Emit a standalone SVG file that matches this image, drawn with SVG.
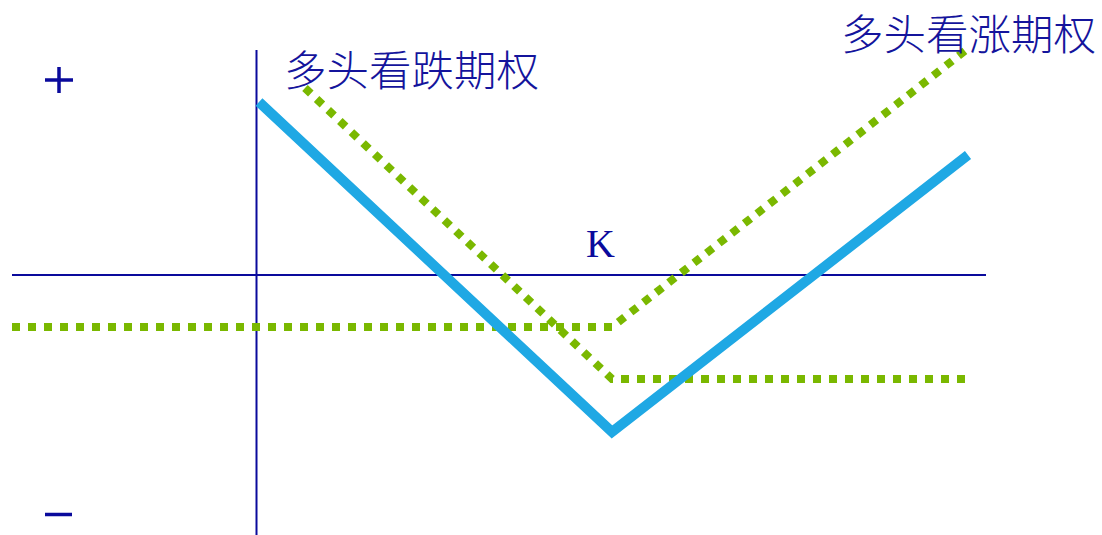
<svg xmlns="http://www.w3.org/2000/svg" width="1102" height="535" viewBox="0 0 1102 535">
<style>
.axis{stroke:#0a0a9c;stroke-width:2;fill:none}
.payoff{stroke:#1fa8e4;stroke-width:10;fill:none;stroke-linejoin:miter}
.opt{stroke:#7ab800;stroke-width:8;fill:none;stroke-dasharray:8 8}
.lbl{font-family:"Liberation Sans","Noto Sans CJK SC",sans-serif;font-size:42.5px;font-weight:300;fill:#14149c}
.k{font-family:"Liberation Serif",serif;font-size:40px;fill:#0a0a9c}
.sign{stroke:#0a0a9c;stroke-width:3.5;fill:none}
</style>
<rect width="1102" height="535" fill="#fff"/>
<g id="connectors">
<line id="x-axis" class="axis" x1="12" y1="275" x2="986" y2="275"/>
<line id="y-axis" class="axis" x1="256.5" y1="50" x2="256.5" y2="535"/>
<polyline id="long-call" class="opt" points="12,327 612,327 966,50"/>
<polyline id="long-put" class="opt" points="305,88 612,379 970,379"/>
<polyline id="combined" class="payoff" points="259,102 612,432 968,155"/>
</g>
<g id="plus"><path class="sign" d="M45,80H73M59,67V93"/></g>
<g id="minus"><path class="sign" d="M45,514.5H72"/></g>
<g id="put-label"><text class="lbl" x="284" y="86">多头看跌期权</text></g>
<g id="call-label"><text class="lbl" x="841" y="50">多头看涨期权</text></g>
<g id="k-label"><text class="k" x="586" y="257">K</text></g>
</svg>
